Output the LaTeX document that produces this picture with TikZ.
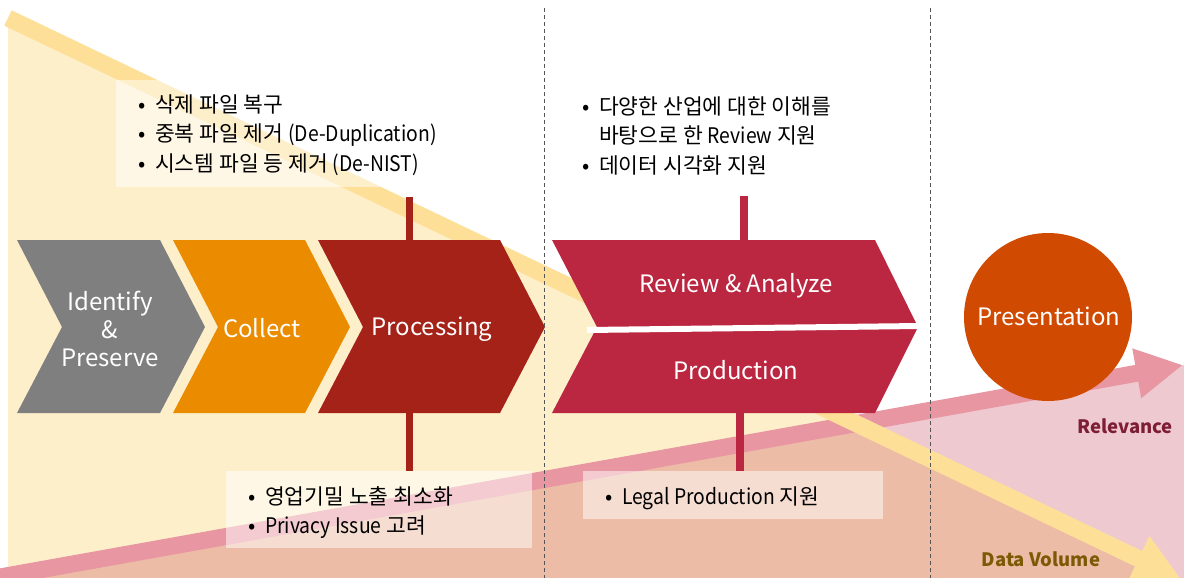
\documentclass[tikz,border=0pt]{standalone}
\usepackage{fontspec}
\setmainfont{Noto Sans CJK KR}
\newfontfamily\kr{Noto Sans CJK KR}
\newfontfamily\lt[FakeStretch=0.9]{Noto Sans CJK KR}
\usetikzlibrary{arrows.meta}
\definecolor{ylight}{HTML}{FEEFCB}
\definecolor{yline}{HTML}{FDDF97}
\definecolor{pline}{HTML}{E897A2}
\definecolor{plight}{HTML}{EEC9D0}
\definecolor{salmon}{HTML}{EDBCA6}
\definecolor{cgray}{HTML}{7F7F7F}
\definecolor{corange}{HTML}{EA8B00}
\definecolor{cdred}{HTML}{A52219}
\definecolor{ccrim}{HTML}{BB2741}
\definecolor{cpres}{HTML}{D04A02}
\definecolor{relc}{HTML}{7E1E36}
\definecolor{dvc}{HTML}{7C5A05}
\definecolor{dashc}{HTML}{555555}
\tikzset{
  bigarrow/.style={line width=17pt, -{Triangle[length=47pt,width=47pt]}},
  notebox/.style={fill=white, fill opacity=0.5, draw=none, inner sep=0pt, anchor=north west},
  stemline/.style={line width=7.5pt},
  chevtext/.style={text=white, inner sep=0pt, font=\fontsize{24}{28}\selectfont, align=center},
  bullettext/.style={inner sep=0pt, anchor=base west, text=black, font=\kr\fontsize{21.5}{29.5}\selectfont},
  divider/.style={dashc, line width=1pt, dash pattern=on 4pt off 3pt},
  axislabel/.style={font=\bfseries\fontsize{18.5}{22}\selectfont, anchor=base, inner sep=0pt},
}
\newcommand{\bitem}[1]{\makebox[17pt][l]{•}#1}
\newcommand{\bcont}[1]{\hspace*{17pt}#1}
\begin{document}
\begin{tikzpicture}[x=1pt,y=-1pt]
\clip (0,0) rectangle (1184,578);
\fill[white] (0,0) rectangle (1184,578);
% background regions
\coordinate (ys) at (8,18);
\coordinate (ye) at (1181,579);
\coordinate (ps) at (0,577);
\coordinate (pe) at (1183,365);
\fill[ylight] (ys) -- (ye) -- (8,580) -- cycle;
\fill[plight] (ps) -- (pe) -- (1186,365) -- (1186,580) -- (0,580) -- cycle;
\begin{scope}
  \clip (ys) -- (ye) -- (8,580) -- cycle;
  \fill[salmon] (ps) -- (pe) -- (1186,365) -- (1186,580) -- (0,580) -- cycle;
\end{scope}
% trend arrows
\draw[pline, bigarrow] (ps) -- (pe);
\draw[yline, bigarrow] (ys) -- (ye);
% note boxes
\node[notebox, minimum width=331pt, minimum height=107pt] (b1) at (116,80) {};
\node[notebox, minimum width=306pt, minimum height=77pt] (b2) at (226,471) {};
\node[notebox, minimum width=300pt, minimum height=48pt] (b4) at (583,471) {};
% stems
\coordinate (st1) at (409.5,197);
\coordinate (st2) at (744,196);
\draw[cdred, stemline] (st1) -- (409.5,241);
\draw[cdred, stemline] (409.5,412) -- (b2.north -| st1);
\draw[ccrim, stemline] (st2) -- (744,241);
\draw[ccrim, stemline] (740,412) -- (b4.north -| 740,0);
% chevrons
\fill[cgray] (17,240) -- (160,240) -- (205,327) -- (160,413) -- (17,413) -- (62,327) -- cycle;
\fill[corange] (173,240) -- (305,240) -- (350,327) -- (305,413) -- (173,413) -- (218,327) -- cycle;
\fill[cdred] (318,240) -- (500,240) -- (545,327) -- (500,413) -- (318,413) -- (363,327) -- cycle;
\fill[ccrim] (552,240) -- (875,240) -- (918,327) -- (875,413) -- (552,413) -- (597,327) -- cycle;
\draw[white, line width=6pt] (587,330) -- (920,326);
\fill[cpres] (1048,317) circle (84);
% dividers
\draw[divider] (544,8) -- (544,578);
\draw[divider] (930,8) -- (930,578);
% chevron labels
\node[chevtext] (t1) at (110,329) {Identify\\\&\\Preserve};
\node[chevtext, anchor=base] (t2) at (262,337) {Collect};
\node[chevtext, anchor=base] (t3) at (432,335) {Processing};
\node[chevtext, anchor=base] (t4) at (736,292) {Review \& Analyze};
\node[chevtext, anchor=base] (t5) at (736,379) {Production};
\node[chevtext, anchor=base] (t6) at (1049,325) {Presentation};
% notes
\node[bullettext] (n1) at (138,112) {\begin{tabular}[t]{@{}l@{}}
\bitem{삭제 파일 복구}\\
\bitem{중복 파일 제거 {\lt(De-Duplication)}}\\
\bitem{시스템 파일 등 제거 {\lt(De-NIST)}}
\end{tabular}};
\node[bullettext] (n2) at (248,504) {\begin{tabular}[t]{@{}l@{}}
\bitem{영업기밀 노출 최소화}\\
\bitem{{\lt Privacy Issue} 고려}
\end{tabular}};
\node[bullettext] (n3) at (582,114) {\begin{tabular}[t]{@{}l@{}}
\bitem{다양한 산업에 대한 이해를}\\
\bcont{바탕으로 한 {\lt Review} 지원}\\
\bitem{데이터 시각화 지원}
\end{tabular}};
\node[bullettext] (n4) at (605,504) {\begin{tabular}[t]{@{}l@{}}
\bitem{{\lt Legal Production} 지원}
\end{tabular}};
% axis labels
\node[axislabel, text=relc] (rel) at (1125,433) {Relevance};
\node[axislabel, text=dvc] (dv) at (1041,566) {Data Volume};
\end{tikzpicture}
\end{document}
